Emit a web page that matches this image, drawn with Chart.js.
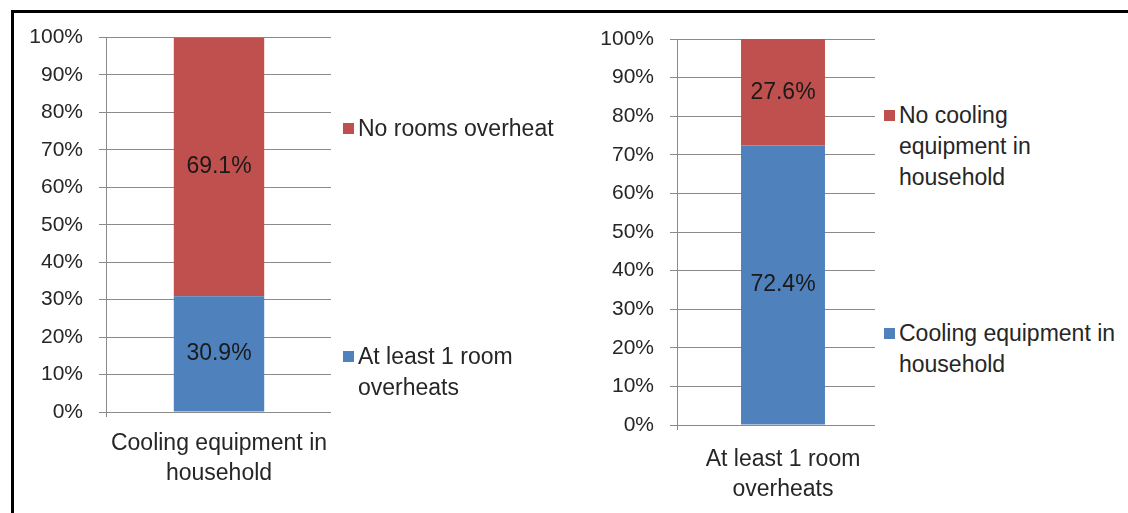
<!DOCTYPE html>
<html>
<head>
<meta charset="utf-8">
<script src="https://cdn.jsdelivr.net/npm/chart.js@4.4.0/dist/chart.umd.min.js"></script>
<style>
  html, body { margin:0; padding:0; background:#fff; width:1128px; height:513px; overflow:hidden; }
  body { position:relative; font-family:"Liberation Sans", Arial, sans-serif; }
  .frame { position:absolute; left:11px; top:10px; width:1200px; height:600px; border-top:3px solid #000; border-left:3px solid #000; }
  .box { position:absolute; }
  .legbox { position:absolute; background:#fff; }
  .leg { position:absolute; font-size:23px; color:#262626; line-height:31px; white-space:nowrap; }
  .leg .sw { position:absolute; left:0; top:10px; width:11px; height:11px; }
  .leg .tx { position:absolute; left:15px; top:0; }
</style>
</head>
<body>
<div class="frame"></div>
<div class="box" id="b1" style="left:13px; top:12px; width:319px; height:480px;"><canvas id="c1"></canvas></div>
<div class="box" id="b2" style="left:590px; top:12px; width:299px; height:498px;"><canvas id="c2"></canvas></div>
<div class="legbox" style="left:331px; top:25px; width:200px; height:400px;"></div>
<div class="legbox" style="left:875px; top:25px; width:260px; height:410px;"></div>
<div id="legends"></div>
<script>
// ---- data ----
const leftCategories = [["Cooling equipment in", "household"]];
const leftSeriesNames = ["At least 1 room overheats", "No rooms overheat"];
const leftLegendLines = [["At least 1 room", "overheats"], ["No rooms overheat"]];
const leftBottomValues = [30.9];
const leftTopValues = [69.1];

const rightCategories = [["At least 1 room", "overheats"]];
const rightSeriesNames = ["Cooling equipment in household", "No cooling equipment in household"];
const rightLegendLines = [["Cooling equipment in", "household"], ["No cooling", "equipment in", "household"]];
const rightBottomValues = [72.4];
const rightTopValues = [27.6];

const yTickValues = [0, 10, 20, 30, 40, 50, 60, 70, 80, 90, 100];

const BLUE = "#4F81BD";
const RED = "#C0504D";
const GRID = "#8a8a8a";
const TEXT = "#262626";
const TICKFONT = { family: "'Liberation Sans', Arial, sans-serif", size: 21 };
const CATFONT = { family: "'Liberation Sans', Arial, sans-serif", size: 23, lineHeight: 1.33 };

const segLabels = {
  id: "segLabels",
  afterDatasetsDraw(chart) {
    const ctx = chart.ctx;
    ctx.save();
    ctx.font = "23px 'Liberation Sans', Arial, sans-serif";
    ctx.fillStyle = "#1a1a1a";
    ctx.textAlign = "center";
    ctx.textBaseline = "middle";
    chart.data.datasets.forEach((ds, i) => {
      chart.getDatasetMeta(i).data.forEach((bar, j) => {
        const v = ds.data[j];
        const yc = (bar.y + bar.base) / 2;
        ctx.fillText(v.toFixed(1) + "%", bar.x, yc);
      });
    });
    ctx.restore();
  }
};

function makeChart(id, cats, names, bottom, top, yWidth, xHeight, padTop, catPct, xPad) {
  return new Chart(document.getElementById(id), {
    type: "bar",
    data: {
      labels: cats,
      datasets: [
        { label: names[0], data: bottom, backgroundColor: BLUE },
        { label: names[1], data: top, backgroundColor: RED }
      ]
    },
    options: {
      responsive: true,
      maintainAspectRatio: false,
      animation: false,
      layout: { padding: { top: padTop, right: 0, bottom: 0, left: 0 } },
      plugins: { legend: { display: false }, tooltip: { enabled: false } },
      datasets: { bar: { barPercentage: 1, categoryPercentage: catPct } },
      scales: {
        x: {
          stacked: true,
          offset: true,
          grid: { display: true, drawOnChartArea: false, drawTicks: true, tickLength: 5, color: GRID, offset: true },
          border: { display: false },
          ticks: { color: TEXT, font: CATFONT, padding: xPad, maxRotation: 0 },
          afterFit(s) { s.height = xHeight; s.paddingLeft = 0; s.paddingRight = 0; }
        },
        y: {
          stacked: true,
          min: 0, max: 100,
          afterBuildTicks(s) { s.ticks = yTickValues.map(v => ({ value: v })); },
          grid: { color: GRID, lineWidth: 1, drawTicks: true, tickLength: 7 },
          border: { display: true, color: GRID, width: 1 },
          ticks: { color: TEXT, font: TICKFONT, padding: 16, callback: v => v + "%" },
          afterFit(s) { s.width = yWidth; s.paddingTop = 0; s.paddingBottom = 0; }
        }
      }
    },
    plugins: [segLabels]
  });
}

makeChart("c1", leftCategories, leftSeriesNames, leftBottomValues, leftTopValues, 93, 80, 25.5, 0.4, 11);
makeChart("c2", rightCategories, rightSeriesNames, rightBottomValues, rightTopValues, 87, 85, 27, 0.396, 14);

// legends (HTML text)
function addLegend(x, entries) {
  const host = document.getElementById("legends");
  entries.forEach(e => {
    const d = document.createElement("div");
    d.className = "leg";
    d.style.left = x + "px";
    d.style.top = (e.y - 15.5) + "px";
    d.innerHTML = '<span class="sw" style="background:' + e.color + '"></span><span class="tx">' + e.lines.join("<br>") + "</span>";
    host.appendChild(d);
  });
}
addLegend(343, [
  { y: 128, color: RED, lines: leftLegendLines[1] },
  { y: 356, color: BLUE, lines: leftLegendLines[0] }
]);
addLegend(884, [
  { y: 115, color: RED, lines: rightLegendLines[1] },
  { y: 333, color: BLUE, lines: rightLegendLines[0] }
]);
</script>
</body>
</html>
